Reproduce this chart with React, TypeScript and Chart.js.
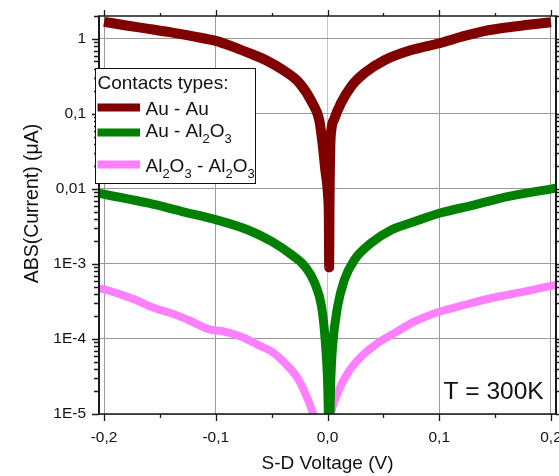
import React, { useEffect, useRef } from "react";
import { Chart, registerables } from "chart.js";

Chart.register(...registerables);

const FONT = "'Liberation Sans', Arial, Helvetica, sans-serif";

// ---- Data ----
const AU_AU_V = [-0.2, -0.18, -0.16, -0.14, -0.12, -0.1, -0.085, -0.07, -0.055, -0.04, -0.025, -0.0134, -0.0074, -0.0045, -0.002, 0.0005, 0.0012, 0.0015, 0.0018, 0.0025, 0.0035, 0.006, 0.012, 0.021, 0.033, 0.051, 0.075, 0.1, 0.12, 0.14, 0.16, 0.18, 0.2];
const AU_AU_I = [1.69, 1.51, 1.36, 1.22, 1.08, 0.94, 0.79, 0.645, 0.52, 0.386, 0.257, 0.139, 0.083, 0.041, 0.018, 0.008, 0.004, 0.0009, 0.006, 0.035, 0.062, 0.085, 0.139, 0.231, 0.349, 0.52, 0.71, 0.875, 1.07, 1.27, 1.42, 1.54, 1.67];

const AU_AL_V = [-0.21, -0.2, -0.16, -0.13, -0.1, -0.071, -0.05, -0.032, -0.02, -0.0113, -0.0053, -0.0023, 0.0, 0.0015, 0.003, 0.0045, 0.009, 0.015, 0.024, 0.039, 0.057, 0.078, 0.1, 0.131, 0.161, 0.203, 0.21];
const AU_AL_I = [0.0091, 0.0085, 0.00645, 0.005, 0.0039, 0.00284, 0.002, 0.00132, 0.00092, 0.00055, 0.00027, 0.000107, 0.00003, 0.000005, 0.00003, 0.000079, 0.00027, 0.00061, 0.00113, 0.0019, 0.00284, 0.00367, 0.00474, 0.0061, 0.0079, 0.0102, 0.0107];

const AL_AL_V = [-0.21, -0.2, -0.1755, -0.1545, -0.1397, -0.1247, -0.104, -0.095, -0.077, -0.062, -0.05, -0.038, -0.0277, -0.02, -0.0128, -0.009, -0.004, 0.001, 0.003, 0.009, 0.0179, 0.03, 0.0448, 0.0597, 0.0776, 0.1, 0.1224, 0.146, 0.176, 0.2045, 0.21];
const AL_AL_I = [0.00049, 0.00046, 0.000349, 0.000257, 0.00022, 0.000179, 0.000132, 0.000128, 0.000107, 0.000083, 0.000068, 0.0000474, 0.0000316, 0.000019, 0.00001, 0.000006, null, 0.000006, 0.00001, 0.000019, 0.0000349, 0.000058, 0.000088, 0.000119, 0.00017, 0.000231, 0.000284, 0.000349, 0.000427, 0.000525, 0.00054];

const SERIES_NAMES = ["Au - Au", "Au - Al2O3", "Al2O3 - Al2O3"];
const SERIES_COLORS = ["#800000", "#008000", "#ff80ff"];
const SERIES_WIDTHS = [10, 9, 8];

const X_TICKS = [-0.2, -0.1, 0, 0.1, 0.2];
const X_TICK_LABELS = ["-0,2", "-0,1", "0,0", "0,1", "0,2"];
const X_MINOR = [-0.15, -0.05, 0.05, 0.15];
const Y_TICKS = [1e-5, 1e-4, 1e-3, 1e-2, 1e-1, 1];
const Y_TICK_LABELS = ["1E-5", "1E-4", "1E-3", "0,01", "0,1", "1"];

const X_MIN = -0.2045;
const X_MAX = 0.2045;
const Y_MIN = 1e-5;
const Y_MAX = 2.02;

const X_TITLE = "S-D Voltage (V)";
const Y_TITLE = "ABS(Current) (μA)";
const LEGEND_TITLE = "Contacts types:";
const ANNOTATION = "T = 300K";

// split "Al2O3" into normal / subscript runs
function runs(text: string): { t: string; sub: boolean }[] {
  const out: { t: string; sub: boolean }[] = [];
  const re = /(\d+)|([^\d]+)/g;
  let m: RegExpExecArray | null;
  while ((m = re.exec(text))) {
    if (m[1]) out.push({ t: m[1], sub: true });
    else out.push({ t: m[2], sub: false });
  }
  return out;
}

const decorPlugin = {
  id: "decor",
  afterDatasetsDraw(chart: any) {
    const { ctx, chartArea: a, scales } = chart;
    const xs = scales.x;
    const ys = scales.y;
    ctx.save();
    ctx.strokeStyle = "#1a1a1a";
    ctx.lineWidth = 1.3;
    ctx.beginPath();
    for (const v of X_TICKS) {
      const px = Math.round(xs.getPixelForValue(v)) + 0.5;
      ctx.moveTo(px, a.bottom);
      ctx.lineTo(px, a.bottom + 7);
      ctx.moveTo(px, a.top);
      ctx.lineTo(px, a.top - 6);
    }
    for (const v of X_MINOR) {
      const px = Math.round(xs.getPixelForValue(v)) + 0.5;
      ctx.moveTo(px, a.bottom);
      ctx.lineTo(px, a.bottom + 4);
      ctx.moveTo(px, a.top);
      ctx.lineTo(px, a.top - 3);
    }
    for (let e = -5; e <= 0; e++) {
      for (let m = 1; m <= 9; m++) {
        const v = m * Math.pow(10, e);
        if (v < Y_MIN || v > Y_MAX) continue;
        const py = Math.round(ys.getPixelForValue(v)) + 0.5;
        const len = m === 1 ? 7 : 5;
        ctx.moveTo(a.left, py);
        ctx.lineTo(a.left - len, py);
        ctx.moveTo(a.right, py);
        ctx.lineTo(a.right + len, py);
      }
    }
    ctx.stroke();
    // frame
    ctx.lineWidth = 2;
    ctx.beginPath();
    ctx.moveTo(a.left, a.top);
    ctx.lineTo(a.left, a.bottom);
    ctx.moveTo(a.right, a.top);
    ctx.lineTo(a.right, a.bottom);
    ctx.stroke();
    ctx.lineWidth = 1.5;
    ctx.beginPath();
    ctx.moveTo(a.left - 1, a.top);
    ctx.lineTo(a.right + 1, a.top);
    ctx.moveTo(a.left - 1, a.bottom);
    ctx.lineTo(a.right + 1, a.bottom);
    ctx.stroke();
    ctx.restore();
  },
  afterDraw(chart: any) {
    const { ctx } = chart;
    ctx.save();
    // Y axis title
    ctx.fillStyle = "#111";
    ctx.font = `19.5px ${FONT}`;
    ctx.textAlign = "center";
    ctx.textBaseline = "middle";
    ctx.translate(32.5, 203.5);
    ctx.rotate(-Math.PI / 2);
    ctx.fillText(Y_TITLE, 0, 0);
    ctx.setTransform(1, 0, 0, 1, 0, 0);

    // Legend box
    const bx = 95, by = 68, bw = 160, bh = 115;
    ctx.fillStyle = "#ffffff";
    ctx.fillRect(bx, by, bw, bh);
    ctx.strokeStyle = "#111";
    ctx.lineWidth = 1;
    ctx.strokeRect(bx + 0.5, by + 0.5, bw, bh);
    ctx.fillStyle = "#111";
    ctx.textAlign = "left";
    ctx.textBaseline = "alphabetic";
    ctx.font = `19px ${FONT}`;
    ctx.fillText(LEGEND_TITLE, 97.5, 88.5);
    const swatchY = [107.5, 132.5, 164.5];
    const textY = [115, 137, 171.5];
    for (let i = 0; i < SERIES_NAMES.length; i++) {
      ctx.strokeStyle = SERIES_COLORS[i];
      ctx.lineWidth = 8;
      ctx.lineCap = "butt";
      ctx.beginPath();
      ctx.moveTo(97.5, swatchY[i]);
      ctx.lineTo(140, swatchY[i]);
      ctx.stroke();
      let x = 145.5;
      ctx.fillStyle = "#111";
      for (const r of runs(SERIES_NAMES[i])) {
        ctx.font = r.sub ? `13px ${FONT}` : `19px ${FONT}`;
        ctx.fillText(r.t, x, textY[i] + (r.sub ? 6 : 0));
        x += ctx.measureText(r.t).width;
      }
    }

    // Temperature annotation
    ctx.font = `24.5px ${FONT}`;
    ctx.fillStyle = "#111";
    ctx.fillText(ANNOTATION, 443.5, 399);
    ctx.restore();
  },
};

export default function App() {
  const canvasRef = useRef<HTMLCanvasElement | null>(null);

  useEffect(() => {
    const canvas = canvasRef.current;
    if (!canvas) return;
    const series = [
      [AU_AU_V, AU_AU_I],
      [AU_AL_V, AU_AL_I],
      [AL_AL_V, AL_AL_I],
    ];
    const chart = new Chart(canvas, {
      type: "line",
      data: {
        datasets: series.map(([vs, is], i) => ({
          label: SERIES_NAMES[i],
          data: (vs as number[]).map((v, k) => ({ x: v, y: (is as (number | null)[])[k] })),
          borderColor: SERIES_COLORS[i],
          backgroundColor: SERIES_COLORS[i],
          borderWidth: SERIES_WIDTHS[i],
          pointRadius: 0,
          borderJoinStyle: "round",
          borderCapStyle: "butt",
          cubicInterpolationMode: "monotone",
          spanGaps: false,
          fill: false,
          clip: 0,
        })) as any,
      },
      options: {
        animation: false,
        responsive: false,
        devicePixelRatio: 1,
        events: [],
        layout: { padding: { top: 16, right: 3, bottom: 0, left: 0 } },
        plugins: { legend: { display: false }, tooltip: { enabled: false }, title: { display: false } },
        scales: {
          x: {
            type: "linear",
            min: X_MIN,
            max: X_MAX,
            border: { display: false },
            grid: {
              color: (c: any) => (c.tick && c.tick.value === 0 ? "#c4c4c4" : "#9a9a9a"),
              lineWidth: 1,
              drawTicks: false,
            },
            afterBuildTicks: (s: any) => {
              s.ticks = X_TICKS.map((v) => ({ value: v }));
            },
            afterFit: (s: any) => {
              s.height = 62;
              s.paddingLeft = 0;
              s.paddingRight = 0;
            },
            ticks: {
              autoSkip: false,
              maxRotation: 0,
              padding: 14,
              color: "#111",
              font: { family: FONT, size: 15.5 },
              callback: (_v: any, i: number) => X_TICK_LABELS[i],
            },
            title: {
              display: true,
              text: X_TITLE,
              color: "#111",
              font: { family: FONT, size: 19 },
              padding: { top: 0, bottom: 1.2 },
            },
          },
          y: {
            type: "logarithmic",
            min: Y_MIN,
            max: Y_MAX,
            border: { display: false },
            grid: { color: "#9a9a9a", lineWidth: 1, drawTicks: false },
            afterBuildTicks: (s: any) => {
              s.ticks = Y_TICKS.map((v) => ({ value: v }));
            },
            afterFit: (s: any) => {
              s.width = 99;
              s.paddingTop = 0;
              s.paddingBottom = 0;
            },
            ticks: {
              autoSkip: false,
              padding: 13,
              color: "#111",
              font: { family: FONT, size: 15.5 },
              callback: (_v: any, i: number) => Y_TICK_LABELS[i],
            },
          },
        },
      },
      plugins: [decorPlugin],
    } as any);
    return () => chart.destroy();
  }, []);

  return (
    <div style={{ position: "absolute", left: 0, top: 0, width: 559, height: 476, background: "#fff" }}>
      <canvas ref={canvasRef} width={559} height={476} style={{ width: 559, height: 476, display: "block" }} />
    </div>
  );
}
